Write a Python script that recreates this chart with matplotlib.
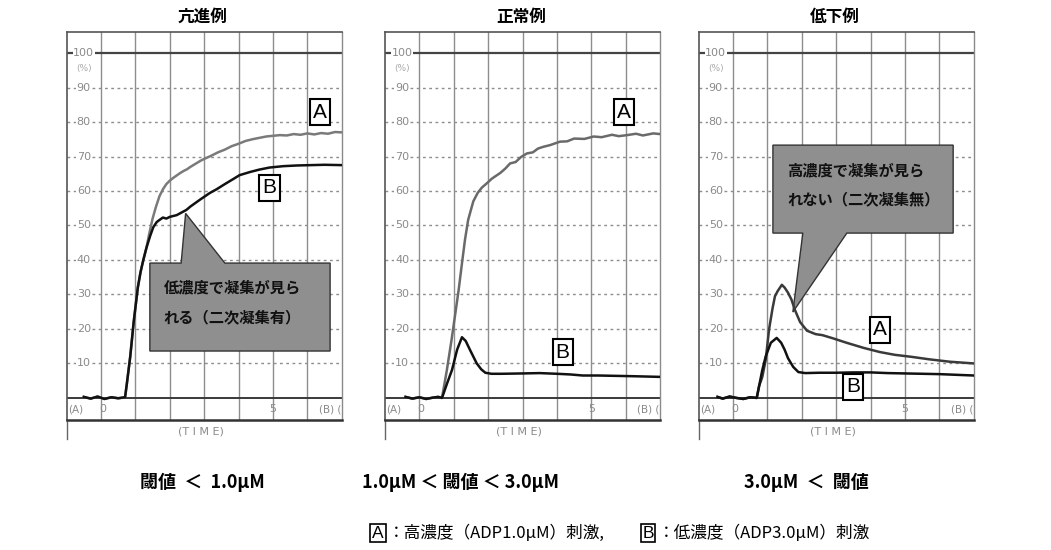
import matplotlib.pyplot as plt
from matplotlib.patches import Polygon

plt.rcParams['font.family'] = ['Noto Sans CJK JP', 'DejaVu Sans']

# panel titles and captions
titles = ['亢進例', '正常例', '低下例']
captions = ['閾値  ＜  1.0μM', '1.0μM ＜ 閾値 ＜ 3.0μM', '3.0μM  ＜  閾値']

# 亢進例 (hyper)
t_a1 = [-0.5, -0.3, -0.1, 0.1, 0.3, 0.5, 0.7, 0.75, 0.85, 0.95, 1.07, 1.15, 1.23, 1.32, 1.4, 1.5, 1.6,
        1.7, 1.8, 1.9, 2.0, 2.1, 2.2, 2.3, 2.4, 2.5, 2.6, 2.7, 2.8, 2.9, 3.0, 3.2, 3.4, 3.6, 3.8, 4.0, 4.2,
        4.4, 4.6, 4.8, 5.0, 5.2, 5.4, 5.6, 5.8, 6.0, 6.2, 6.4, 6.6, 6.8, 7.0]
a1 = [0.3, -0.2, 0.4, -0.3, 0.2, -0.1, 0.2, 4, 12, 22, 32, 36.5, 40, 43.5, 47.5, 52, 55.5,
      58.5, 60.5, 62, 63, 63.8, 64.5, 65.2, 65.8, 66.3, 67, 67.6, 68.2, 68.8, 69.3, 70.2, 71.2, 72, 73, 73.7, 74.5,
      75, 75.4, 75.8, 76, 76.2, 76.1, 76.5, 76.3, 76.7, 76.4, 76.8, 76.6, 77.1, 77]
t_b1 = [-0.5, -0.3, -0.1, 0.1, 0.3, 0.5, 0.7, 0.75, 0.85, 0.95, 1.07, 1.15, 1.23, 1.32, 1.43, 1.52, 1.62,
        1.7, 1.8, 1.9, 2.0, 2.2, 2.48, 2.6, 2.88, 3.16, 3.36, 3.6, 3.85, 4.03, 4.33, 4.6, 4.9, 5.3, 5.7,
        6.1, 6.5, 7.0]
b1 = [0.3, -0.2, 0.4, -0.3, 0.2, -0.1, 0.2, 4, 12, 22, 32, 36.5, 40, 43.5, 47, 49.5, 51,
      51.6, 52.3, 52, 52.5, 53, 54.5, 55.5, 57.5, 59.4, 60.5, 62, 63.5, 64.6, 65.5, 66.2, 66.8, 67.2, 67.4,
      67.5, 67.6, 67.5]

# 正常例 (normal)
t_a2 = [-0.4, -0.2, 0.0, 0.2, 0.4, 0.55, 0.66, 0.8, 0.94, 1.04, 1.14, 1.24, 1.33, 1.42, 1.5, 1.57, 1.7,
        1.82, 1.96, 2.1, 2.2, 2.35, 2.5, 2.64, 2.8, 2.95, 3.13, 3.3, 3.45, 3.6, 3.8, 4.09, 4.3, 4.5, 4.8,
        5.07, 5.3, 5.6, 5.8, 6.04, 6.3, 6.5, 6.8, 7.0]
a2 = [0.3, -0.2, 0.2, -0.3, 0.1, 0.3, 0, 8, 17, 24, 31, 39, 46, 51.6, 54.5, 57, 59.5,
      61, 62.2, 63.5, 64.2, 65.2, 66.5, 68, 68.4, 69.8, 70.9, 71.2, 72.3, 72.8, 73.3, 74.3, 74.4, 75.2, 75.1,
      75.8, 75.6, 76.3, 75.9, 76.2, 76.6, 76.1, 76.7, 76.5]
t_b2 = [-0.4, -0.2, 0.0, 0.2, 0.4, 0.55, 0.66, 0.8, 0.95, 1.1, 1.24, 1.35, 1.47, 1.57, 1.67, 1.8, 1.92,
        2.1, 2.4, 3.0, 3.5, 4.0, 4.4, 4.75, 5.2, 5.7, 6.2, 6.6, 7.0]
b2 = [0.3, -0.2, 0.2, -0.3, 0.1, 0.3, 0, 4, 8.1, 14, 17.6, 16.5, 14, 12, 10, 8.3, 7.3,
      7, 7, 7.1, 7.2, 7, 6.8, 6.5, 6.5, 6.4, 6.3, 6.2, 6.1]

# 低下例 (hypo)
t_a3 = [-0.45, -0.3, -0.1, 0.1, 0.3, 0.5, 0.69, 0.76, 0.85, 0.95, 1.05, 1.15, 1.22, 1.3, 1.42, 1.5, 1.6,
        1.7, 1.8, 1.95, 2.15, 2.4, 2.6, 2.9, 3.3, 3.8, 4.27, 4.7, 5.2, 5.7, 6.3, 7.0]
a3 = [0.3, -0.2, 0.4, 0, -0.3, 0.2, 0, 3.5, 6, 11, 20, 26, 29.5, 31, 32.8, 32, 30.5,
      28.5, 25.5, 22, 19.5, 18.5, 18.2, 17.3, 16, 14.5, 13.3, 12.5, 11.9, 11.2, 10.5, 10]
t_b3 = [-0.45, -0.3, -0.1, 0.1, 0.3, 0.5, 0.69, 0.76, 0.85, 0.95, 1.1, 1.27, 1.4, 1.5, 1.6, 1.75, 1.9,
        2.1, 2.5, 3.0, 3.5, 4.0, 4.5, 5.0, 5.5, 6.0, 6.5, 7.0]
b3 = [0.3, -0.2, 0.4, 0, -0.3, 0.2, 0, 3.5, 8, 12, 16, 17.4, 16, 14, 11.5, 9, 7.5,
      7.2, 7.3, 7.3, 7.4, 7.4, 7.2, 7.1, 7, 6.9, 6.7, 6.5]

series = [(t_a1, a1, t_b1, b1), (t_a2, a2, t_b2, b2), (t_a3, a3, t_b3, b3)]
a_colors = ['#7a7a7a', '#6a6a6a', '#3a3a3a']

# callouts: box outline with pointer, text lines
callouts = [
    ([(1.42, 39.1), (2.33, 39.1), (2.46, 53.5), (3.6, 39.1), (6.66, 39.1), (6.66, 13.6), (1.42, 13.6)],
     ['低濃度で凝集が見ら', 'れる（二次凝集有）'], (1.82, 32.0, 23.5)),
    None,
    ([(1.16, 73.3), (6.4, 73.3), (6.4, 47.8), (3.31, 47.8), (1.74, 24.9), (2.03, 47.8), (1.16, 47.8)],
     ['高濃度で凝集が見ら', 'れない（二次凝集無）'], (1.58, 66.0, 57.5)),
]
# boxed A / B label positions
label_pos = [((6.37, 82.9), (4.9, 60.9)), ((5.94, 82.9), (4.17, 13.3)), ((4.27, 19.7), (3.49, 3.2))]

W, H = 1051, 550
fig = plt.figure(figsize=(W / 100, H / 100), dpi=100)
lefts = [66.6, 384.9, 698.6]
pw = 275.2
top_px, bot_px = 32, 420

for i in range(3):
    ax = fig.add_axes([lefts[i] / W, 1 - bot_px / H, pw / W, (bot_px - top_px) / H])
    ax.set_xlim(-1, 7)
    ax.set_ylim(-6.4, 106.1)
    ax.set_xticks([])
    ax.set_yticks([])
    for s in ['left', 'top']:
        ax.spines[s].set_color('#555555')
        ax.spines[s].set_linewidth(1.2)
    ax.spines['bottom'].set_color('#333333')
    ax.spines['bottom'].set_linewidth(1.8)
    ax.spines['right'].set_color('#8a8a8a')
    ax.spines['right'].set_linewidth(1.0)

    for x in range(0, 7):
        ax.axvline(x, color='#8e8e8e', lw=1.0, zorder=1)
    for y in range(10, 100, 10):
        ax.axhline(y, color='#8e8e8e', lw=1.0, ls=(0, (2, 2.5)), zorder=1)
    ax.axhline(100, color='#444444', lw=1.6, zorder=2)
    ax.axhline(0, color='#3a3a3a', lw=1.4, zorder=2)

    for v in range(10, 101, 10):
        ax.text(-0.5, v, str(v), ha='center', va='center', fontsize=8, color='#8a8a8a',
                family='DejaVu Sans', bbox=dict(fc='white', ec='none', pad=0.6), zorder=2)
    ax.text(-0.5, 95.5, '(%)', ha='center', va='center', fontsize=6.5, color='#aaaaaa', family='DejaVu Sans')
    ax.text(-0.95, -3.3, '(A)', ha='left', va='center', fontsize=7.5, color='#8a8a8a', family='DejaVu Sans')
    ax.text(0.05, -3.3, '0', ha='center', va='center', fontsize=8, color='#8a8a8a', family='DejaVu Sans')
    ax.text(5, -3.3, '5', ha='center', va='center', fontsize=8, color='#8a8a8a', family='DejaVu Sans')
    ax.text(6.98, -3.3, '(B) (', ha='right', va='center', fontsize=7.5, color='#8a8a8a', family='DejaVu Sans')
    ax.text(2.9, -9.8, '(T I M E)', ha='center', va='center', fontsize=8, color='#8a8a8a',
            family='DejaVu Sans', clip_on=False)
    ax.plot([-1, -1], [-6.4, -11.8], color='#666666', lw=1.0, clip_on=False)

    ta, a, tb, b = series[i]
    ax.plot(ta, a, color=a_colors[i], lw=1.8, zorder=5)
    ax.plot(tb, b, color='#111111', lw=1.8, zorder=6)

    if callouts[i] is not None:
        verts, lines, (tx, ty1, ty2) = callouts[i]
        ax.add_patch(Polygon(verts, closed=True, fc='#8f8f8f', ec='#333333', lw=1.0, zorder=4))
        ax.text(tx, ty1, lines[0], fontsize=11, fontweight='bold', color='#111111', va='center', zorder=7)
        ax.text(tx, ty2, lines[1], fontsize=11, fontweight='bold', color='#111111', va='center', zorder=7)

    for lab, (lx, ly) in zip(['A', 'B'], label_pos[i]):
        ax.text(lx, ly, lab, ha='center', va='center', fontsize=15, family='Liberation Sans', zorder=8,
                bbox=dict(boxstyle='square,pad=0.15', fc='white', ec='black', lw=1.5))

    fig.text((lefts[i] + 34.4 * 3.95) / W, 1 - 17 / H, titles[i], ha='center', va='center',
             fontsize=12, fontweight='bold')

cap_x = [202, 460, 806]
for cx, cap in zip(cap_x, captions):
    fig.text(cx / W, 1 - 482 / H, cap, ha='center', va='center', fontsize=13, fontweight='bold')

# legend line at the bottom
fig.text(378 / W, 1 - 533 / H, 'A', ha='center', va='center', fontsize=12.5, family='Liberation Sans',
         bbox=dict(boxstyle='square,pad=0.1', fc='white', ec='black', lw=1.2))
fig.text(388 / W, 1 - 533 / H, '：高濃度（ADP1.0μM）刺激,', ha='left', va='center', fontsize=12)
fig.text(648 / W, 1 - 533 / H, 'B', ha='center', va='center', fontsize=12.5, family='Liberation Sans',
         bbox=dict(boxstyle='square,pad=0.1', fc='white', ec='black', lw=1.2))
fig.text(658 / W, 1 - 533 / H, '：低濃度（ADP3.0μM）刺激', ha='left', va='center', fontsize=12)

fig.savefig('out.png', dpi=100, facecolor='white')
